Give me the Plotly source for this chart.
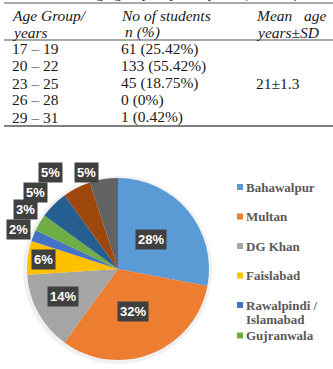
import math
import plotly.graph_objects as go

# ---------------- data ----------------
age_groups = ["17 – 19", "20 – 22", "23 – 25", "26 – 28", "29 – 31"]
n_students = [61, 133, 45, 0, 1]
pct_students = ["25.42%", "55.42%", "18.75%", "0%", "0.42%"]
mean_age = "21±1.3"

cities = ["Bahawalpur", "Multan", "DG Khan", "Faislabad",
          "Rawalpindi /|Islamabad", "Gujranwala", "Region 7", "Region 8", "Region 9"]
city_pct = [28, 32, 14, 6, 2, 3, 5, 5, 5]
legend_shown = 6

# ---------------- style ----------------
W, H = 333, 369
colors = ["#5B9BD5", "#ED7D31", "#A5A5A5", "#FFC000", "#4472C4",
          "#70AD47", "#255E91", "#9E480E", "#636363"]
label_r = [0.48, 0.50, 0.68, 0.82, 1.18, 1.21, 1.24, 1.29, 1.11]
label_nudge = [-2, 2, 2, 0, 0, 2, -2, -8, -9]
cx, cy, R = 118, 269, 91


def px(x):
    return x / W


def py(y):
    return 1 - y / H


fig = go.Figure()

fig.add_trace(go.Pie(
    labels=[c.replace("|", " ") for c in cities], values=city_pct, sort=False,
    direction="clockwise", rotation=0, marker=dict(colors=colors, line=dict(width=0)),
    textinfo="none", showlegend=False,
    domain=dict(x=[px(cx - R), px(cx + R)], y=[py(cy + R), py(cy - R)]),
))

annotations = []
shapes = []

# soft shadow behind the pie
shapes.append(dict(type="circle", xref="paper", yref="paper", layer="below",
                   x0=px(cx - R - 4), x1=px(cx + R + 3), y0=py(cy + R + 4), y1=py(cy - R - 2),
                   fillcolor="rgba(0,0,0,0.06)", line=dict(width=0)))

# slice labels
total = sum(city_pct)
cum = 0
for i, v in enumerate(city_pct):
    mid = (cum + v / 2) / total * 360 + label_nudge[i]
    cum += v
    a = math.radians(mid)
    lx = cx + label_r[i] * R * math.sin(a)
    ly = cy - label_r[i] * R * math.cos(a)
    annotations.append(dict(
        x=px(lx), y=py(ly), xref="paper", yref="paper", showarrow=False,
        text=f"<b>{v}%</b>", font=dict(family="Liberation Sans", size=13, color="white"),
        bgcolor="#404040", borderpad=2, xanchor="center", yanchor="middle"))

# legend (manual, first entries visible)
for i in range(legend_shown):
    ry = 187 + 29.5 * i
    if i == legend_shown - 1:
        ry += 1
    shapes.append(dict(type="rect", xref="paper", yref="paper",
                       x0=px(237), x1=px(243), y0=py(ry + 3), y1=py(ry - 3),
                       fillcolor=colors[i], line=dict(width=0)))
    for j, part in enumerate(cities[i].split("|")):
        annotations.append(dict(
            x=px(244), y=py(ry + 14.5 * j), xref="paper", yref="paper", showarrow=False,
            text=f"<b>{part}</b>", align="left",
            font=dict(family="Liberation Serif", size=13, color="#595959"),
            xanchor="left", yanchor="middle"))

# ---------------- table ----------------
serif = "Liberation Serif"
tcol = "#1a1a1a"
col_x = [10, 119, 254]


def txt(x, y, s, italic=False, size=15.5):
    if italic:
        s = f"<i>{s}</i>"
    annotations.append(dict(x=px(x), y=py(y), xref="paper", yref="paper", showarrow=False,
                            text=s, font=dict(family=serif, size=size, color=tcol),
                            xanchor="left", yanchor="middle"))


# partially visible caption above the table
annotations.append(dict(x=0.5, y=py(-7), xref="paper", yref="paper", showarrow=False,
                        text="Table 1: Age group of participants (n = 240)",
                        font=dict(family=serif, size=15, color=tcol),
                        xanchor="center", yanchor="middle"))

txt(col_x[0], 15, "Age Group/", True)
txt(col_x[0], 32, "years", True)
txt(col_x[1], 15, "No of students", True)
txt(col_x[1] + 4, 32, "n (%)", True)
txt(col_x[2], 15, "Mean&nbsp;&nbsp;&nbsp;age", True)
txt(col_x[2], 32, "years±SD", True)

row_y0, row_step = 49, 17
for i, g in enumerate(age_groups):
    y = row_y0 + row_step * i
    txt(col_x[0], y, g)
    txt(col_x[1], y, f"{n_students[i]} ({pct_students[i]})")
txt(col_x[2], row_y0 + row_step * 2, mean_age)

for ly, lw in [(3, 1.2), (40, 1), (126, 1.5)]:
    shapes.append(dict(type="line", xref="paper", yref="paper",
                       x0=px(4), x1=1, y0=py(ly), y1=py(ly),
                       line=dict(color="#555555", width=lw)))

fig.update_layout(
    width=W, height=H, margin=dict(l=0, r=0, t=0, b=0),
    paper_bgcolor="white", plot_bgcolor="white",
    annotations=annotations, shapes=shapes,
)

fig.write_html("out.html")
